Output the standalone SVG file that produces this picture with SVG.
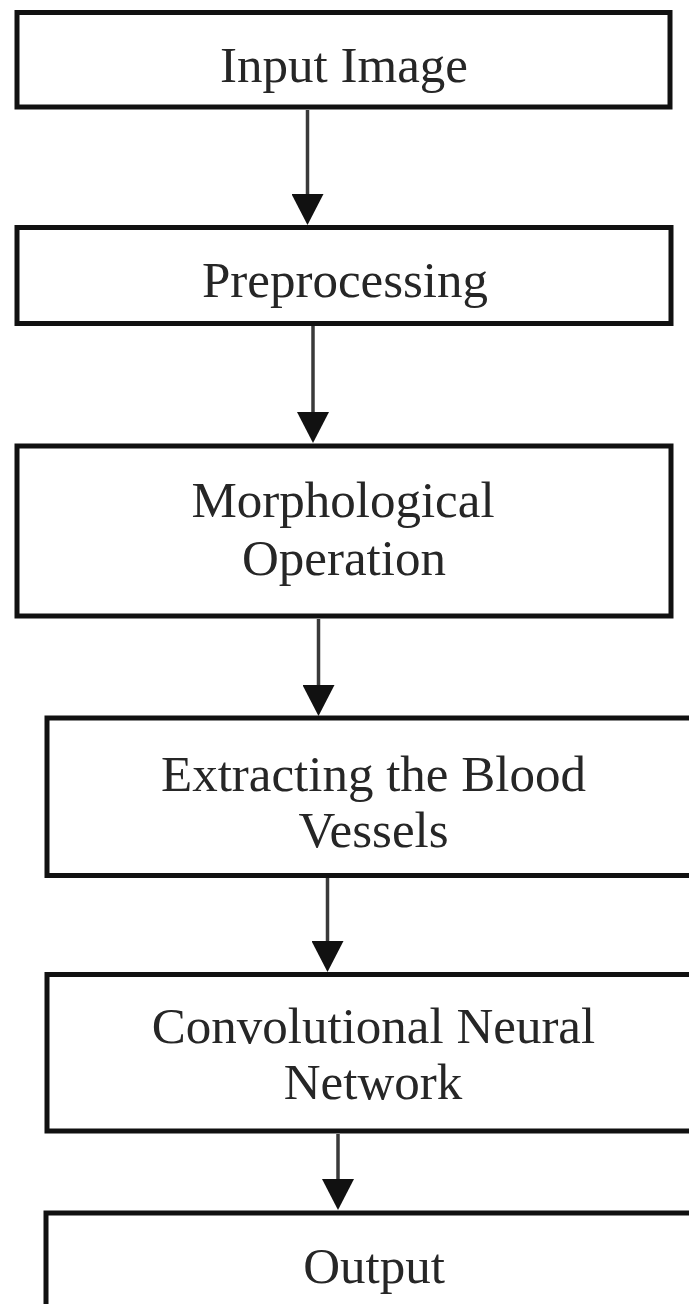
<svg xmlns="http://www.w3.org/2000/svg" width="689" height="1304" viewBox="0 0 689 1304">
  <defs>
    <style>
      .box { fill: #ffffff; stroke: #111111; stroke-width: 5; }
      .lbl { font-family: "Liberation Serif", "Times New Roman", serif; font-size: 51px; fill: #262626; text-anchor: middle; }
      .conn { stroke: #3a3a3a; stroke-width: 3.5; fill: none; marker-end: url(#head); }
    </style>
    <marker id="head" markerUnits="userSpaceOnUse" viewBox="0 0 31 32" refX="0" refY="16" markerWidth="31" markerHeight="32" orient="auto">
      <path d="M0,0 L31,16 L0,32 Z" fill="#111111"/>
    </marker>
  </defs>
  <rect width="689" height="1304" fill="#ffffff"/>

  <g id="connectors">
    <line class="conn" x1="307.5" y1="110" x2="307.5" y2="194"/>
    <line class="conn" x1="313" y1="326" x2="313" y2="412"/>
    <line class="conn" x1="318.5" y1="619" x2="318.5" y2="685"/>
    <line class="conn" x1="327.5" y1="878" x2="327.5" y2="941"/>
    <line class="conn" x1="338" y1="1134" x2="338" y2="1179"/>
  </g>

  <g id="node-input">
    <rect class="box" x="17" y="12.5" width="653" height="94.5"/>
    <text class="lbl" x="344" y="82">Input Image</text>
  </g>
  <g id="node-preprocessing">
    <rect class="box" x="17" y="227.5" width="654" height="96"/>
    <text class="lbl" x="345" y="297">Preprocessing</text>
  </g>
  <g id="node-morphological">
    <rect class="box" x="17" y="446" width="654" height="170"/>
    <text class="lbl" x="343" y="517">Morphological</text>
    <text class="lbl" x="344" y="575">Operation</text>
  </g>
  <g id="node-extracting">
    <rect class="box" x="47" y="718" width="660" height="157.5"/>
    <text class="lbl" x="373.5" y="791">Extracting the Blood</text>
    <text class="lbl" x="373.5" y="847">Vessels</text>
  </g>
  <g id="node-cnn">
    <rect class="box" x="47" y="974.5" width="660" height="156.5"/>
    <text class="lbl" x="373.5" y="1043">Convolutional Neural</text>
    <text class="lbl" x="373" y="1099">Network</text>
  </g>
  <g id="node-output">
    <rect class="box" x="46" y="1213" width="661" height="120"/>
    <text class="lbl" x="374" y="1283">Output</text>
  </g>
</svg>
